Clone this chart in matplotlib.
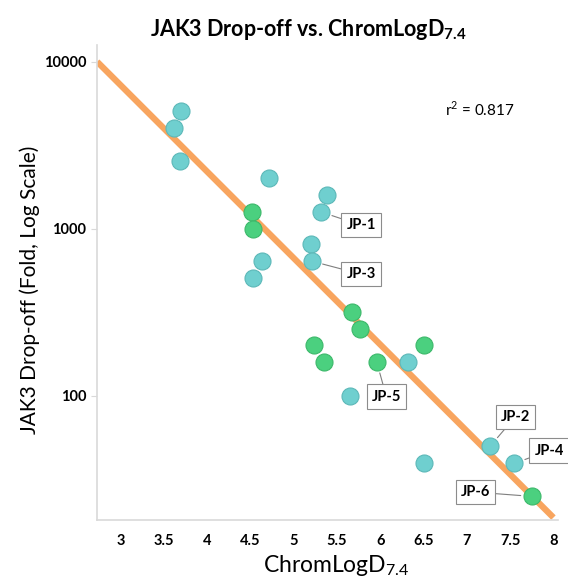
import matplotlib
matplotlib.use("Agg")
import matplotlib.pyplot as plt
import numpy as np

plt.rcParams["font.family"] = ["Lato", "DejaVu Sans"]
plt.rcParams["mathtext.fontset"] = "custom"
plt.rcParams["mathtext.rm"] = "Lato"
plt.rcParams["mathtext.bf"] = "Lato:bold"

# cyan series (ChromLogD, fold drop-off)
cyan_x = [3.70, 3.62, 3.69, 4.71, 5.38, 5.32, 5.20, 5.21, 4.63, 4.53, 5.65, 6.32, 6.50, 7.27, 7.55]
cyan_y = [5070, 4010, 2540, 2010, 1590, 1260, 810, 640, 640, 506, 100, 159, 39.4, 50, 39.4]
# green series
green_x = [4.52, 4.53, 5.67, 5.77, 5.24, 5.35, 5.96, 6.50, 7.75]
green_y = [1260, 995, 317, 250, 201, 159, 159, 201, 25]

# regression line, log10(y) = a + b*x
fit_a = 5.415
fit_b = -0.518
fit_x = [2.73, 8.0]
r2_text = "r$^2$ = 0.817"

# labelled compounds: (name, point x, point y, box x, box y)
labels = [
    ("JP-1", 5.32, 1260, 5.78, 1050),
    ("JP-3", 5.21, 640, 5.78, 535),
    ("JP-5", 5.96, 159, 6.07, 99),
    ("JP-2", 7.27, 50, 7.56, 75),
    ("JP-4", 7.55, 39.4, 7.95, 47),
    ("JP-6", 7.75, 25, 7.10, 26.5),
]

fig = plt.figure(figsize=(5.68, 5.78), dpi=100)
ax = fig.add_axes([0.171, 0.100, 0.811, 0.822])

fx = np.array(fit_x)
ax.plot(fx, 10 ** (fit_a + fit_b * fx), color="#f8a55f", lw=4.5, zorder=2, solid_capstyle="butt")

ax.scatter(cyan_x, cyan_y, s=150, color="#6fcfcf", edgecolor="#5cb8b8", linewidth=0.8, zorder=3)
ax.scatter(green_x, green_y, s=150, color="#4bd07f", edgecolor="#3cb86a", linewidth=0.8, zorder=3)

for name, px, py, bx, by in labels:
    ax.annotate(name, xy=(px, py), xytext=(bx, by), fontsize=10.5, fontweight="bold",
                ha="center", va="center", zorder=4,
                bbox=dict(boxstyle="square,pad=0.35", fc="white", ec="#8c8c8c", lw=0.8),
                arrowprops=dict(arrowstyle="-", color="#7f7f7f", lw=0.8,
                                shrinkA=0, shrinkB=8))

ax.set_yscale("log")
ax.set_xlim(2.73, 8.05)
ax.set_ylim(18, 12600)
ax.set_xticks([3, 3.5, 4, 4.5, 5, 5.5, 6, 6.5, 7, 7.5, 8])
ax.set_xticklabels(["3", "3.5", "4", "4.5", "5", "5.5", "6", "6.5", "7", "7.5", "8"])
ax.set_yticks([100, 1000, 10000])
ax.set_yticklabels(["100", "1000", "10000"])
ax.yaxis.set_minor_locator(matplotlib.ticker.NullLocator())
for lab in ax.get_xticklabels() + ax.get_yticklabels():
    lab.set_fontweight("bold")
    lab.set_fontsize(10.5)
ax.tick_params(axis="x", length=0, pad=10)
ax.tick_params(axis="y", length=4, color="#d9d9d9", pad=4)
for s in ["top", "right"]:
    ax.spines[s].set_visible(False)
for s in ["left", "bottom"]:
    ax.spines[s].set_color("#d9d9d9")
    ax.spines[s].set_linewidth(1.2)

ax.text(0.83, 0.865, r2_text, transform=ax.transAxes, fontsize=11, ha="center", va="center")

fig.text(308 / 568, 1 - 30 / 578, r"JAK3 Drop-off vs. ChromLogD$_{\mathbf{7.4}}$",
         fontsize=15.5, fontweight="bold", ha="center", va="center")
fig.text(336 / 568, 1 - 566 / 578, r"ChromLogD$_{7.4}$", fontsize=16.5, ha="center", va="center")
fig.text(30 / 568, 1 - 290 / 578, "JAK3 Drop-off (Fold, Log Scale)", fontsize=15,
         rotation=90, ha="center", va="center")

fig.savefig("out.png", dpi=100)
